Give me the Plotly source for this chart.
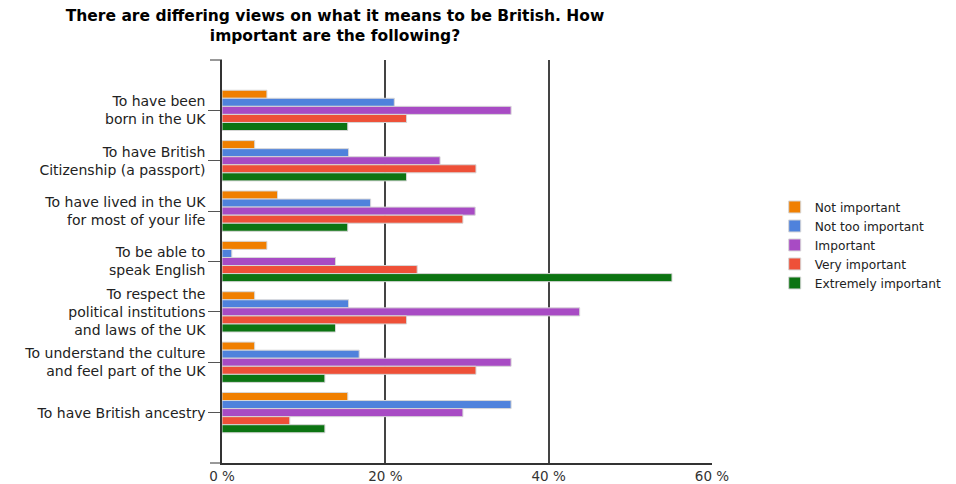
import plotly.graph_objects as go

categories = [
    "To have been<br>born in the UK",
    "To have British<br>Citizenship (a passport)",
    "To have lived in the UK<br>for most of your life",
    "To be able to<br>speak English",
    "To respect the<br>political institutions<br>and laws of the UK",
    "To understand the culture<br>and feel part of the UK",
    "To have British ancestry",
]
series_names = ["Not important", "Not too important", "Important", "Very important", "Extremely important"]
not_important = [5.5, 4.0, 6.8, 5.5, 4.0, 4.0, 15.4]
not_too_important = [21.1, 15.5, 18.2, 1.2, 15.5, 16.8, 35.4]
important = [35.4, 26.7, 31.0, 13.9, 43.8, 35.4, 29.5]
very_important = [22.6, 31.1, 29.5, 23.9, 22.6, 31.1, 8.3]
extremely_important = [15.4, 22.6, 15.4, 55.1, 13.9, 12.6, 12.6]
colors = ["#f07f00", "#4f82dc", "#a84bc4", "#ee5038", "#0c7412"]
tick_vals = [0, 20, 40, 60]
tick_text = ["0 %", "20 %", "40 %", "60 %"]

FONT = "DejaVu Sans, Arial, sans-serif"
W, H = 948, 476
L, R, T, B = 214, 244, 52, 21
PW = W - L - R

fig = go.Figure()
for name, vals, col in zip(series_names,
                           [not_important, not_too_important, important, very_important, extremely_important],
                           colors):
    fig.add_trace(go.Bar(
        y=categories, x=vals, name=name, orientation="h",
        marker=dict(color=col, line=dict(color="rgba(215,215,215,1)", width=1)),
    ))

fig.update_layout(
    width=W, height=H,
    barmode="group", bargap=0.2, bargroupgap=0,
    paper_bgcolor="white", plot_bgcolor="white",
    margin=dict(l=L, r=R, t=T, b=B, autoexpand=False),
    font=dict(family=FONT, size=13, color="#222222"),
    title=dict(
        text="<b>There are differing views on what it means to be British. How<br>important are the following?</b>",
        x=327 / W, xanchor="center", yref="container", y=1 - 13 / H, yanchor="top",
        font=dict(family=FONT, size=15.5, color="#000000"),
    ),
    legend=dict(
        x=1.128, xanchor="left", y=0.541, yanchor="middle",
        font=dict(family=FONT, size=12.2, color="#222222"), tracegroupgap=0,
    ),
    showlegend=True,
)
fig.update_xaxes(
    range=[0, 60], tickvals=tick_vals, ticktext=tick_text,
    showgrid=True, gridcolor="#444444", gridwidth=1.5,
    showline=True, linecolor="#333333", linewidth=1.5,
    zeroline=False, ticks="", tickfont=dict(family=FONT, size=13.5, color="#333333"),
)
fig.update_yaxes(
    categoryorder="array", categoryarray=categories,
    range=[7, -1],
    showline=True, linecolor="#333333", linewidth=1.5,
    ticks="outside", ticklen=12, tickcolor="#555555", tickwidth=1,
    tickfont=dict(family=FONT, size=14, color="#222222"),
    showgrid=False, zeroline=False,
)
for yv in [0, 1]:
    fig.add_shape(type="line", xref="paper", yref="paper", x0=-12 / PW, x1=0, y0=yv, y1=yv,
                  line=dict(color="#333333", width=1))

fig.write_html("out.html")
